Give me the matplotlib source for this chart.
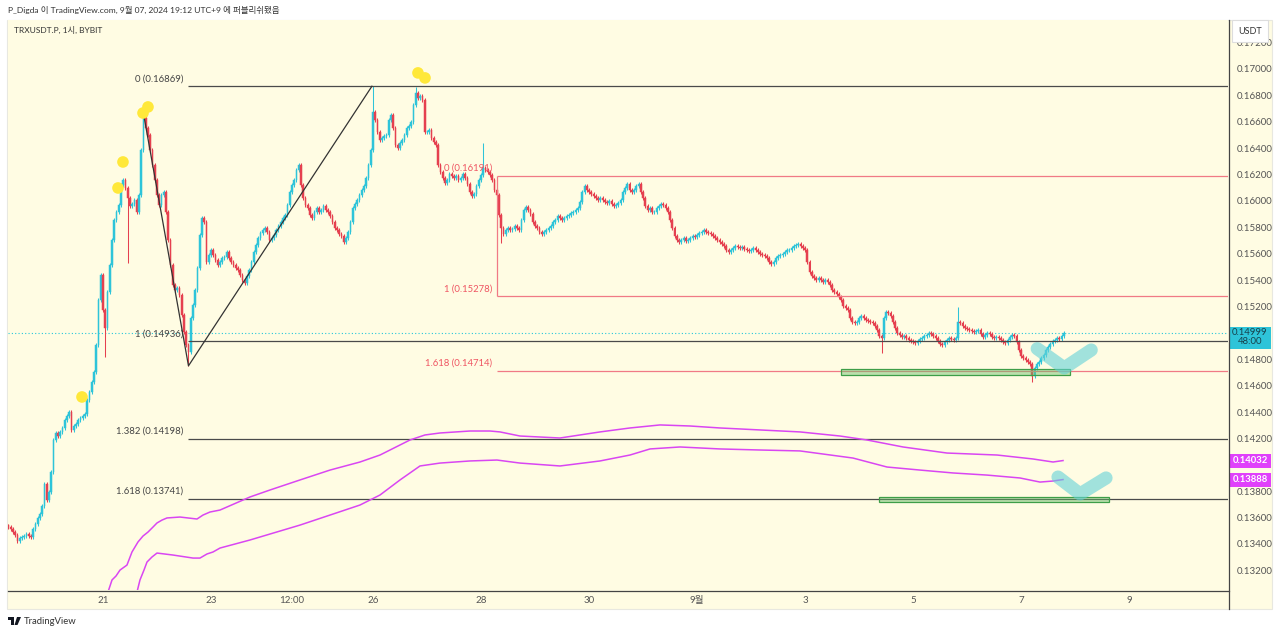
import matplotlib.pyplot as plt
import matplotlib.transforms as mtransforms
from matplotlib.patches import Rectangle, Polygon
from matplotlib.lines import Line2D
import numpy as np

plt.rcParams['font.family'] = ['Lato', 'Noto Sans CJK KR', 'DejaVu Sans']

BG = '#FFFCE3'
UP = '#2EC4D9'
DOWN = '#E5404F'

# TRXUSDT.P 1h closes (unit 1e-5 USDT), one list per 24 candles, first candle Aug 19 06:00
day0 = [13528, 13513, 13490, 13468, 13422, 13445, 13453, 13460, 13475, 13460, 13453, 13513,
        13551, 13597, 13627, 13688, 13854, 13733, 13794, 13945, 14188, 14241, 14218, 14248]
day1 = [14279, 14339, 14370, 14400, 14264, 14294, 14309, 14339, 14355, 14370, 14385, 14491,
        14552, 14627, 14703, 14908, 15249, 15438, 15173, 15037, 15310, 15514, 15704, 15855]
day2 = [15916, 15969, 16121, 16159, 16098, 16022, 15962, 15977, 16007, 15916, 16045, 16386,
        16629, 16553, 16500, 16386, 16272, 16159, 16045, 15969, 16045, 16068, 15916, 15704]
day3 = [15514, 15363, 15325, 15340, 15287, 15135, 15006, 14908, 14855, 15113, 15211, 15325,
        15492, 15742, 15871, 15840, 15537, 15590, 15628, 15590, 15552, 15514, 15537, 15567]
day4 = [15575, 15613, 15567, 15537, 15514, 15492, 15476, 15438, 15401, 15378, 15431, 15476,
        15537, 15613, 15666, 15719, 15757, 15780, 15795, 15764, 15704, 15719, 15742, 15780]
day5 = [15810, 15840, 15871, 15893, 15969, 16068, 16121, 16159, 16234, 16272, 16121, 16022,
        15969, 15946, 15893, 15871, 15916, 15946, 15916, 15931, 15962, 15931, 15916, 15886]
day6 = [15840, 15795, 15780, 15749, 15734, 15689, 15719, 15764, 15840, 15946, 15977, 16007,
        16045, 16083, 16113, 16174, 16272, 16386, 16674, 16613, 16522, 16462, 16477, 16492]
day7 = [16500, 16613, 16651, 16553, 16424, 16401, 16439, 16462, 16500, 16553, 16568, 16598,
        16727, 16818, 16780, 16795, 16765, 16522, 16522, 16538, 16477, 16447, 16424, 16272]
day8 = [16219, 16174, 16136, 16159, 16204, 16189, 16174, 16189, 16159, 16174, 16204, 16174,
        16128, 16068, 16037, 16052, 16113, 16159, 16197, 16250, 16234, 16219, 16197, 16159]
day9 = [16083, 16045, 15893, 15795, 15749, 15780, 15795, 15780, 15787, 15810, 15795, 15780,
        15855, 15931, 15954, 15931, 15901, 15840, 15810, 15795, 15764, 15749, 15764, 15780]
day10 = [15795, 15810, 15840, 15855, 15886, 15871, 15855, 15871, 15886, 15893, 15908, 15916,
         15931, 15946, 15992, 16068, 16113, 16083, 16068, 16052, 16037, 16022, 16007, 16022]
day11 = [16007, 15992, 15984, 15999, 15977, 15962, 15969, 15984, 16007, 16068, 16098, 16128,
         16083, 16068, 16083, 16113, 16128, 16068, 16022, 15962, 15931, 15946, 15916, 15916]
day12 = [15946, 15962, 15977, 15969, 15946, 15916, 15855, 15795, 15734, 15704, 15689, 15704,
         15719, 15696, 15704, 15719, 15734, 15727, 15742, 15757, 15764, 15780, 15764, 15757]
day13 = [15749, 15734, 15719, 15704, 15689, 15673, 15658, 15628, 15613, 15628, 15643, 15658,
         15651, 15643, 15651, 15636, 15628, 15620, 15628, 15643, 15628, 15613, 15598, 15590]
day14 = [15583, 15567, 15537, 15522, 15537, 15567, 15583, 15590, 15598, 15613, 15628, 15628,
         15643, 15658, 15666, 15673, 15658, 15643, 15628, 15537, 15461, 15431, 15416, 15401]
day15 = [15416, 15401, 15385, 15401, 15385, 15363, 15325, 15310, 15294, 15272, 15249, 15204,
         15188, 15173, 15113, 15082, 15075, 15082, 15113, 15128, 15113, 15097, 15090, 15082]
day16 = [15075, 15052, 15022, 14976, 14961, 15113, 15158, 15150, 15128, 15082, 15037, 14999,
         14984, 14969, 14976, 14961, 14946, 14938, 14931, 14923, 14938, 14953, 14961, 14976]
day17 = [14984, 14999, 14991, 14976, 14961, 14938, 14915, 14908, 14931, 14946, 14961, 14953,
         14946, 14961, 15082, 15075, 15052, 15037, 15029, 15022, 15014, 15006, 15014, 15022]
day18 = [14991, 14969, 14984, 14999, 14991, 14969, 14961, 14969, 14961, 14946, 14931, 14923,
         14946, 14969, 14984, 14976, 14931, 14870, 14825, 14809, 14794, 14779, 14764, 14673]
day19 = [14734, 14764, 14779, 14809, 14832, 14870, 14893, 14915, 14938, 14946, 14961, 14953,
         14976, 14999]

first_open = 13540
# long wicks: candle index -> (high, low), None keeps the default
big_wicks = {43: (None, 14817), 53: (None, 15530), 60: (16683, None), 80: (None, 14750),
             162: (16869, None), 181: (16860, None), 211: (16439, None), 219: (None, 15680),
             388: (None, 14847), 422: (15196, None), 455: (None, 14630)}

# fib extension 1 (black) and 2 (red)
fib1_levels = [0.16869, 0.14936, 0.14198, 0.13741]
fib1_names = ['0 (0.16869)', '1 (0.14936)', '1.382 (0.14198)', '1.618 (0.13741)']
fib1_points_x = [21.741, 22.583, 25.98]
fib1_points_y = [0.16683, 0.14750, 0.16869]
fib2_levels = [0.16191, 0.15278, 0.14714]
fib2_names = ['0 (0.16191)', '1 (0.15278)', '1.618 (0.14714)']
fib2_start = 28.296

# two purple band lines (day, price)
purple_up_x = [21.093, 21.167, 21.241, 21.315, 21.444, 21.537, 21.648, 21.741, 21.833, 21.926, 22.0,
               22.093, 22.185, 22.426, 22.741, 22.852, 22.981, 23.167, 23.722, 24.093, 24.648, 25.204,
               25.759, 26.130, 26.5, 26.685, 26.963, 27.241, 27.796, 28.167, 28.352, 28.722, 29.463,
               30.204, 30.759, 31.315, 31.870, 32.426, 33.167, 33.907, 34.648, 35.148, 35.815, 36.630,
               37.556, 38.222, 38.593, 38.778]
purple_up_y = [13036, 13127, 13157, 13202, 13240, 13339, 13415, 13460, 13490, 13528, 13559,
               13581, 13597, 13604, 13589, 13619, 13642, 13657, 13756, 13809, 13885, 13960,
               14021, 14074, 14150, 14188, 14226, 14241, 14256, 14256, 14249, 14218, 14203,
               14249, 14279, 14302, 14294, 14279, 14264, 14249, 14218, 14188, 14135, 14089,
               14074, 14044, 14021, 14032]
purple_lo_x = [21.630, 21.685, 21.759, 21.815, 21.907, 22.0, 22.296, 22.667, 22.796, 22.926, 23.037,
               23.167, 23.722, 24.648, 25.204, 25.759, 26.130, 26.5, 26.870, 27.241, 27.796, 28.296,
               28.722, 29.463, 30.204, 30.759, 31.130, 31.685, 32.426, 33.167, 33.907, 34.889,
               35.519, 36.130, 36.741, 37.370, 37.981, 38.352, 38.593, 38.778]
purple_lo_y = [13036, 13127, 13202, 13263, 13301, 13331, 13316, 13293, 13293, 13324, 13339,
               13369, 13430, 13543, 13619, 13695, 13771, 13885, 13991, 14013, 14029, 14036,
               14013, 13991, 14029, 14074, 14120, 14135, 14120, 14112, 14105, 14051,
               13983, 13960, 13938, 13922, 13900, 13869, 13877, 13888]

# drawings
dots_x = [20.611, 21.278, 21.370, 21.741, 21.833, 26.833, 26.963]
dots_y = [0.14514, 0.16098, 0.16295, 0.16666, 0.16712, 0.16970, 0.16932]
check1_x = [38.30, 38.80, 39.30]
check1_y = [0.14880, 0.14734, 0.14870]
check2_x = [38.685, 39.093, 39.574]
check2_y = [0.13907, 0.13779, 0.13900]
zones = [(34.667, 38.907, 0.14680, 0.14726), (35.37, 39.63, 0.13718, 0.13756)]

last_price = 0.14999
ma_last = [0.14032, 0.13888]

tick_days = [21, 23, 24.5, 26, 28, 30, 32, 34, 36, 38, 40]
tick_names = ['21', '23', '12:00', '26', '28', '30', '9월', '3', '5', '7', '9']
price_ticks = [0.172, 0.170, 0.168, 0.166, 0.164, 0.162, 0.160, 0.158, 0.156, 0.154, 0.152,
               0.148, 0.146, 0.144, 0.142, 0.138, 0.136, 0.134, 0.132]

closes = np.array(day0 + day1 + day2 + day3 + day4 + day5 + day6 + day7 + day8 + day9 + day10 +
                  day11 + day12 + day13 + day14 + day15 + day16 + day17 + day18 + day19) / 1e5
opens = np.r_[first_open / 1e5, closes[:-1]]
x = 19.25 + np.arange(len(closes)) / 24
highs = np.maximum(opens, closes) + 0.00014
lows = np.minimum(opens, closes) - 0.00014
for i, (h, l) in big_wicks.items():
    if h:
        highs[i] = h / 1e5
    if l:
        lows[i] = l / 1e5

W, H = 1280, 634
fig = plt.figure(figsize=(W / 100, H / 100), dpi=100)
fig.patch.set_facecolor('white')
fig.patches.append(Rectangle((7 / W, 1 - 609 / H), 1265 / W, 589 / H, transform=fig.transFigure,
                             facecolor=BG, edgecolor='#e8e8e0', lw=0.8, zorder=-5))
ax = fig.add_axes([8 / W, 1 - 590 / H, 1220 / W, 570 / H])
ax.set_facecolor(BG)
ax.set_xlim(19.241, 41.833)
ax.set_ylim(0.13051, 0.17371)

# candles
colors = np.where(closes >= opens, UP, DOWN)
ax.vlines(x, lows, highs, colors=colors, lw=0.75, zorder=3)
ax.bar(x, np.maximum(np.abs(closes - opens), 0.00003), bottom=np.minimum(opens, closes),
       width=0.75 / 24, color=colors, edgecolor=colors, lw=0.35, zorder=3)

ax.axhline(last_price, color='#26C6DA', ls=(0, (1, 2)), lw=0.8, zorder=2)

# fib 1
ax.hlines(fib1_levels, fib1_points_x[1], 41.833, color='#4a4a4a', lw=0.9, zorder=4)
ax.plot(fib1_points_x, fib1_points_y, color='#333333', lw=0.9, zorder=4)
for lv, name in zip(fib1_levels, fib1_names):
    ax.annotate(name, (fib1_points_x[1], lv), xytext=(-5, 3), textcoords='offset pixels',
                ha='right', va='bottom', fontsize=6.8, color='#444444')

# fib 2
ax.hlines(fib2_levels, fib2_start, 41.833, color='#F07A85', lw=0.9, zorder=4)
ax.vlines(fib2_start, fib2_levels[1], fib2_levels[0], color='#F07A85', lw=0.9, zorder=4)
for lv, name in zip(fib2_levels, fib2_names):
    ax.annotate(name, (fib2_start, lv), xytext=(-5, 3), textcoords='offset pixels',
                ha='right', va='bottom', fontsize=6.8, color='#EF5563')

ax.plot(purple_up_x, np.array(purple_up_y) / 1e5, color='#D946F2', lw=1.1, zorder=4)
ax.plot(purple_lo_x, np.array(purple_lo_y) / 1e5, color='#D946F2', lw=1.1, zorder=4)

for x0, x1, y0, y1 in zones:
    ax.add_patch(Rectangle((x0, y0), x1 - x0, y1 - y0, facecolor=(0.40, 0.75, 0.42, 0.45),
                           edgecolor='#3E9E48', lw=0.9, zorder=5))

ax.scatter(dots_x, dots_y, s=70, color='#FFE83A', edgecolor='none', zorder=6)
for cx, cy in [(check1_x, check1_y), (check2_x, check2_y)]:
    ax.plot(cx, cy, color='#62D2D8', alpha=0.6, lw=9.5, solid_capstyle='round',
            solid_joinstyle='round', zorder=6)

# axes look
for s in ['top', 'left', 'right', 'bottom']:
    ax.spines[s].set_visible(False)
fig.lines.append(Line2D([8 / W, 1229 / W], [1 - 590.5 / H] * 2, transform=fig.transFigure,
                        color='#444444', lw=0.9))
fig.lines.append(Line2D([1229 / W] * 2, [1 - 20 / H, 1 - 609 / H], transform=fig.transFigure,
                        color='#444444', lw=0.9))
ax.yaxis.tick_right()
ax.set_yticks(price_ticks)
ax.set_yticklabels(['%.5f' % p for p in price_ticks])
ax.tick_params(axis='y', length=0, pad=6, labelsize=7, labelcolor='#555555')
ax.set_xticks(tick_days)
ax.set_xticklabels(tick_names)
ax.tick_params(axis='x', length=0, pad=4, labelsize=7, labelcolor='#555555')

# price labels on the scale
blend = mtransforms.blended_transform_factory(fig.transFigure, ax.transData)
ax.add_patch(Rectangle((1229 / W, last_price - 0.00118), 42 / W, 0.00166, transform=blend,
                       facecolor='#2EC4D9', edgecolor='none', clip_on=False, zorder=10))
ax.text(1250 / W, last_price, '%.5f' % last_price, transform=blend, ha='center', va='center',
        fontsize=6.8, color='#17404a', zorder=11)
ax.text(1250 / W, last_price - 0.00068, '48:00', transform=blend, ha='center', va='center',
        fontsize=6.8, color='#17404a', zorder=11)
for v in ma_last:
    ax.add_patch(Rectangle((1229 / W, v - 0.00053), 42 / W, 0.00106, transform=blend,
                           facecolor='#E040FB', edgecolor='none', clip_on=False, zorder=10))
    ax.text(1250 / W, v, '%.5f' % v, transform=blend, ha='center', va='center',
            fontsize=6.8, color='white', fontweight='bold', zorder=11)

fig.text(1250 / W, 1 - 31 / H, 'USDT', ha='center', va='center', fontsize=6.5, color='#333333',
         bbox=dict(boxstyle='square,pad=0.7', fc='white', ec='#dddddd', lw=0.8), zorder=12)

fig.text(8 / W, 1 - 9.5 / H, 'P_Digda 이 TradingView.com, 9월 07, 2024 19:12 UTC+9 에 퍼블리쉬됐음',
         ha='left', va='center', fontsize=6.1, color='#333333')
fig.text(14 / W, 1 - 29.5 / H, 'TRXUSDT.P, 1시, BYBIT', ha='left', va='center', fontsize=6,
         color='#333333')
fig.text(24 / W, 1 - 621 / H, 'TradingView', ha='left', va='center', fontsize=6.8, color='#333333')
# small logo
for pts in [[(8, 617), (14, 617), (14, 620), (8, 620)], [(10.5, 617), (13.5, 617), (13.5, 625), (10.5, 625)],
            [(17, 617), (21, 617), (17.5, 625), (14.5, 625)]]:
    fig.patches.append(Polygon([(px / W, 1 - py / H) for px, py in pts], closed=True,
                               transform=fig.transFigure, facecolor='#131722', edgecolor='none'))

plt.savefig('out.png', dpi=100)
